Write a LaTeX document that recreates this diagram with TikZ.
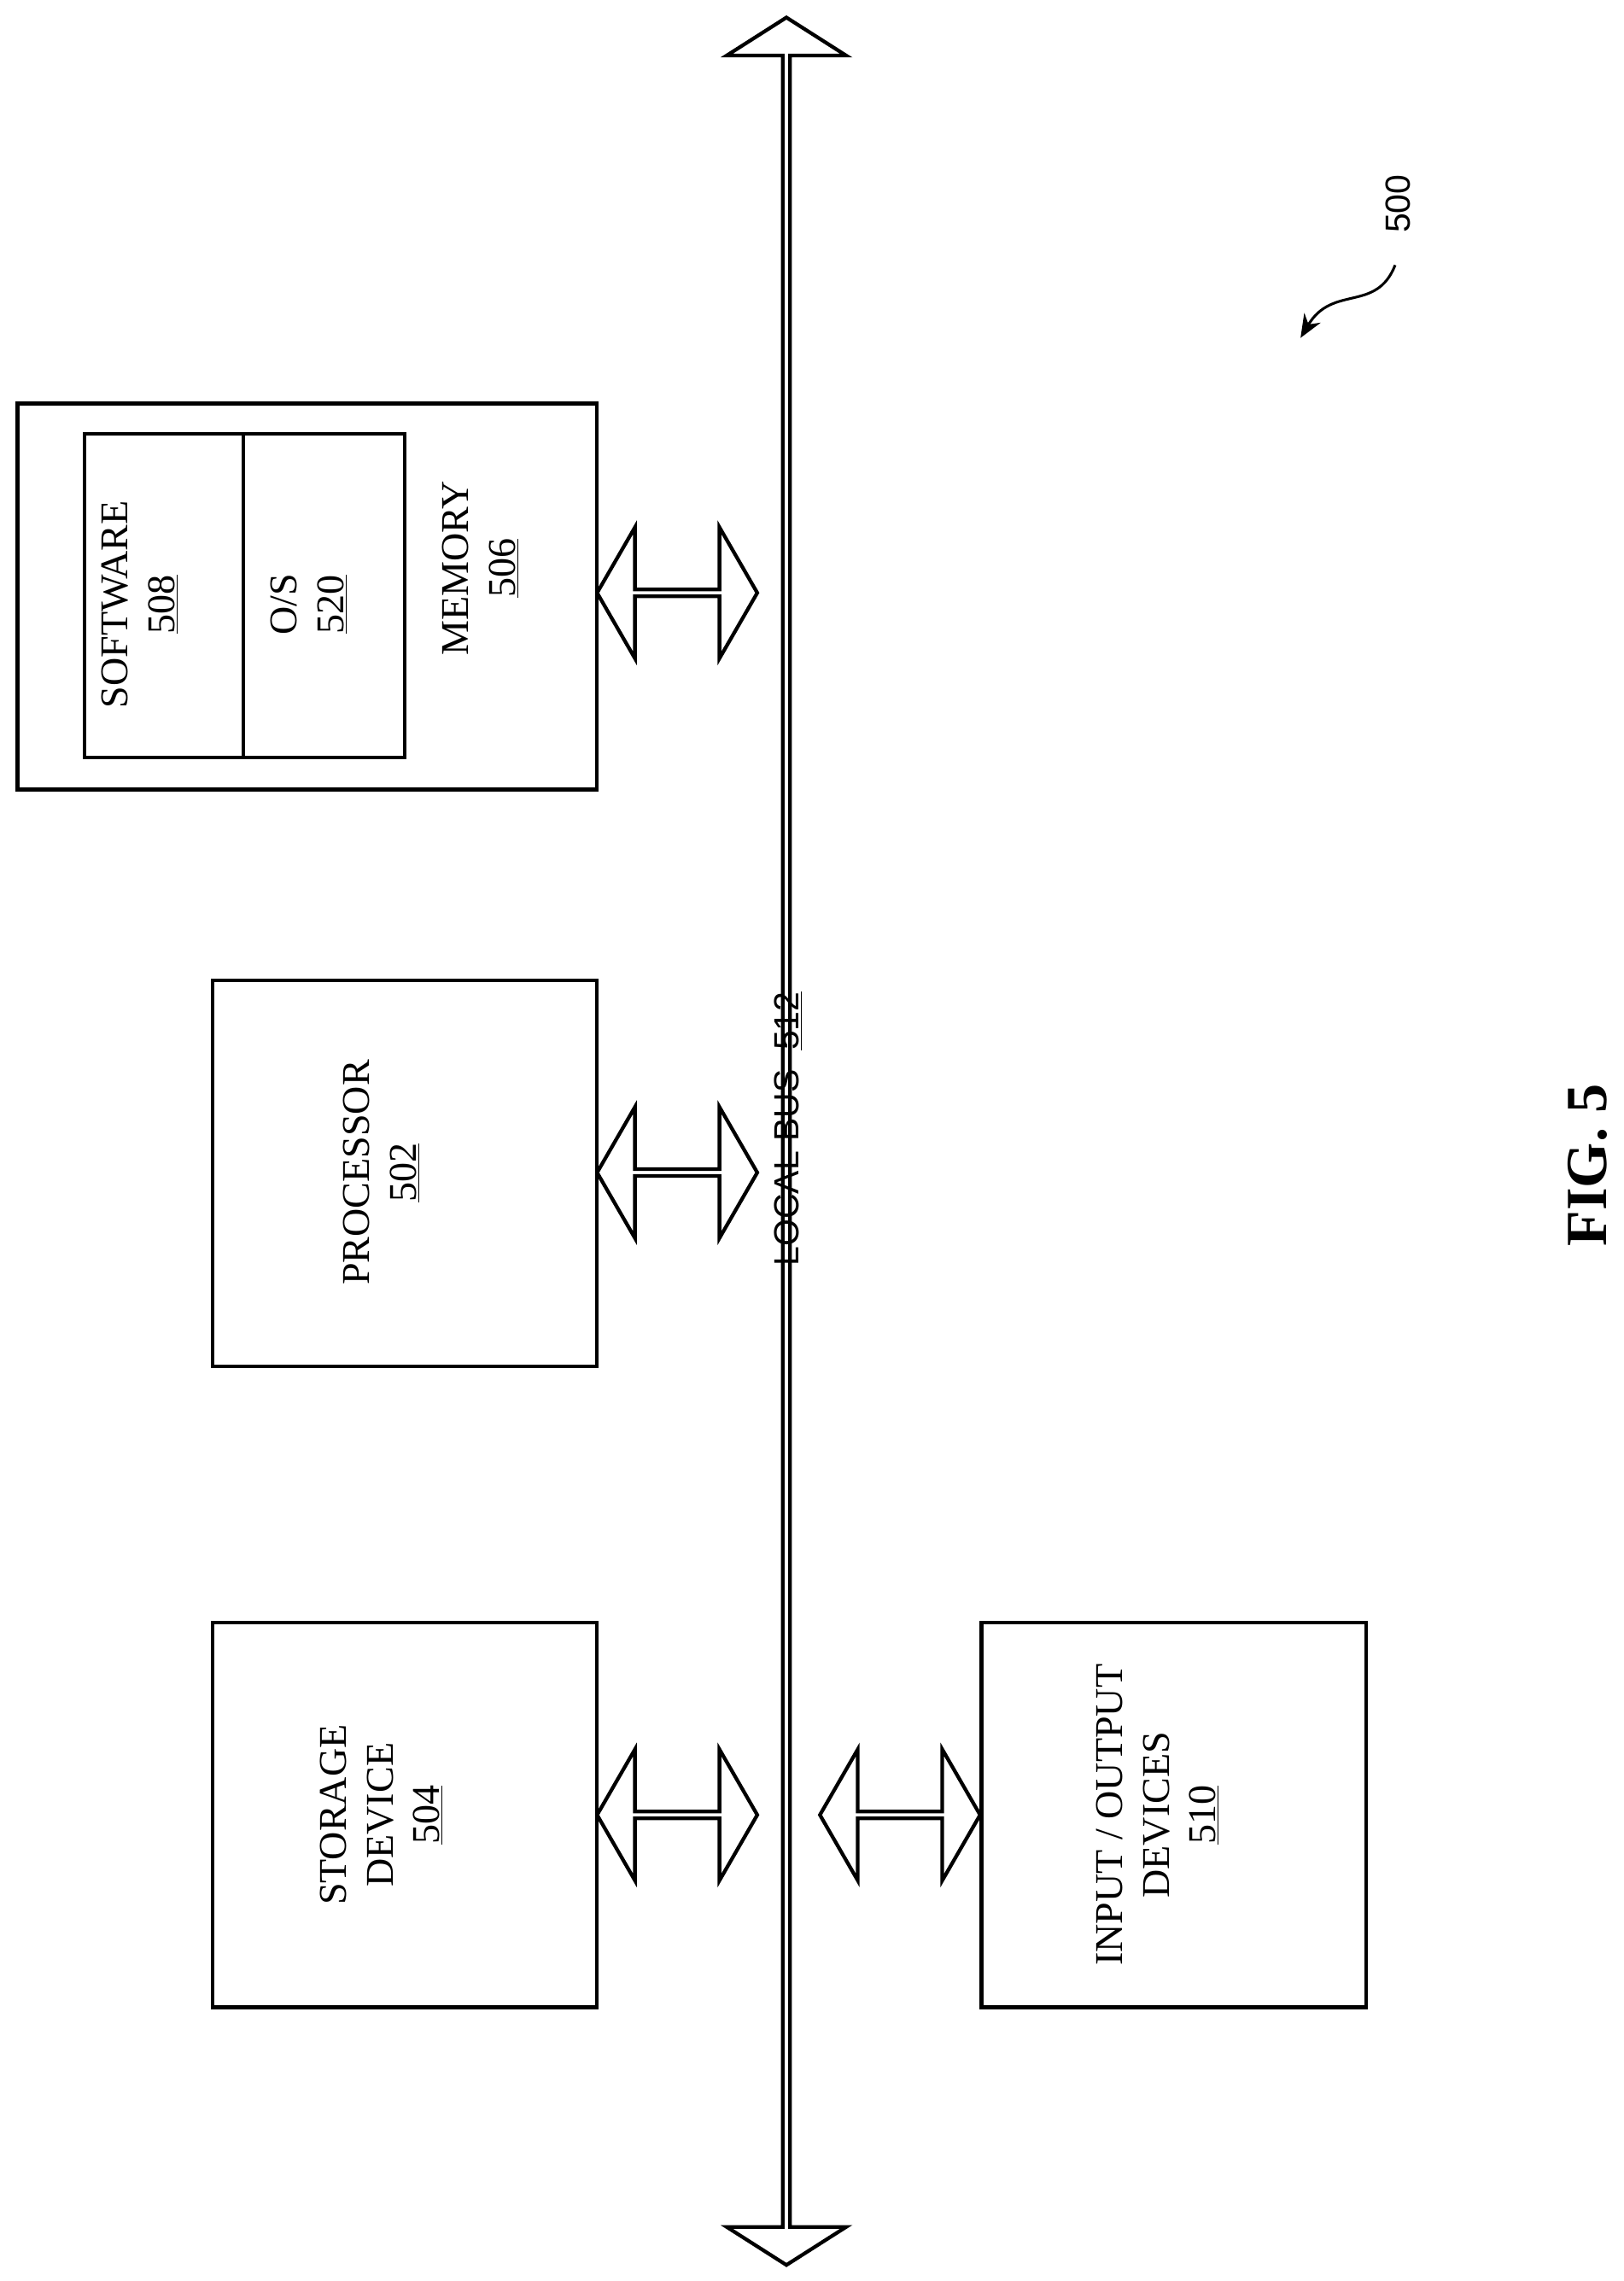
\documentclass[tikz,border=0pt]{standalone}
\usepackage{fontspec}
\setmainfont{Liberation Serif}
\setsansfont{Liberation Sans}
\usetikzlibrary{shapes.arrows,arrows.meta}

\tikzset{
  box/.style={draw,line width=2.5pt,inner sep=0pt},
  lbl/.style={rotate=90,align=center,font=\fontsize{27}{32}\selectfont},
  barrow/.style={double arrow,draw,line width=2.5pt,inner sep=0pt,
    minimum height=110pt,minimum width=90pt,double arrow head extend=22.5pt,
    double arrow tip angle=120,double arrow head indent=0pt}
}

\begin{document}
\begin{tikzpicture}[x=1pt,y=-1pt]
  \useasboundingbox (0,0) rectangle (1115,1566);
  % bus
  \node[double arrow,draw,line width=2.5pt,inner sep=0pt,shape border rotate=90,
    minimum height=1543pt,minimum width=82pt,double arrow head extend=19pt,
    double arrow tip angle=115] (bus) at (540,783.5) {};
  \node[rotate=90,font=\sffamily\fontsize{24}{28}\selectfont] (buslbl) at (541,775) {LOCAL BUS\ \ \underline{512}};
  % memory
  \draw[box] (12,277) rectangle (410,542);
  \draw[box] (58,298) rectangle (278,520);
  \draw[box] (167,298) -- (167,520);
  \node[lbl] (sw) at (96,415) {SOFTWARE\\\underline{508}};
  \node[lbl] (os) at (212,415) {O/S\\\underline{520}};
  \node[lbl] (mem) at (330,390) {MEMORY\\\underline{506}};
  % processor, storage, io
  \draw[box] (146,673) rectangle (410,938);
  \node[lbl] (proc) at (262,805) {PROCESSOR\\\underline{502}};
  \draw[box] (146,1114) rectangle (410,1378);
  \node[lbl] (stor) at (262,1246) {STORAGE\\DEVICE\\\underline{504}};
  \draw[box] (674,1114) rectangle (938,1378);
  \node[lbl] (io) at (795,1246) {INPUT / OUTPUT\\DEVICES\\\underline{510}};
  % links to bus
  \node[barrow] (amem) at (465,407) {};
  \node[barrow] (aproc) at (465,805) {};
  \node[barrow] (astor) at (465,1246) {};
  \node[barrow] (aio) at (618,1246) {};
  % reference numeral
  \node[rotate=90,font=\sffamily\fontsize{24}{28}\selectfont] (ref) at (960,140) {500};
  \coordinate (sq) at (958,182);
  \coordinate (sqend) at (893,232);
  \draw[line width=1.8pt,-{Stealth[length=16pt,width=13pt]}] (sq) .. controls (945,215) and (915,195) .. (sqend);
  \node[rotate=90,font=\bfseries\fontsize{40}{46}\selectfont] (fig) at (1090,800) {FIG. 5};
\end{tikzpicture}
\end{document}
